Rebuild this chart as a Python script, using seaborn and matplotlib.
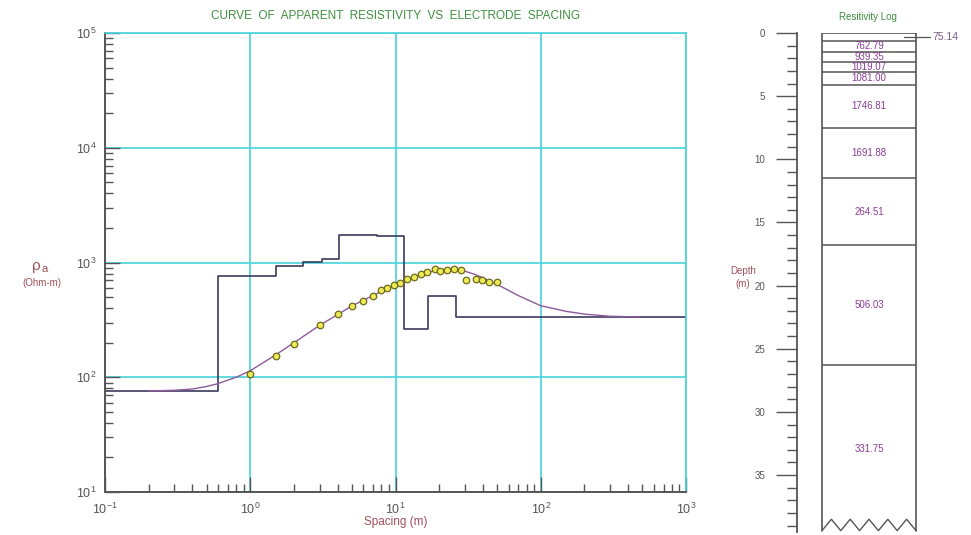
import numpy as np
import pandas as pd
import matplotlib
matplotlib.use("Agg")
import matplotlib.pyplot as plt
import seaborn as sns
from matplotlib.ticker import LogLocator, FixedLocator, NullFormatter, MultipleLocator

# ---------------- data ----------------
layer_res = [75.14, 762.79, 939.35, 1019.07, 1081.00, 1746.81, 1691.88, 264.51, 506.03, 331.75]
layer_bottom = [0.6, 1.5, 2.3, 3.1, 4.1, 7.5, 11.5, 16.8, 26.3]
res_labels = ["75.14", "762.79", "939.35", "1019.07", "1081.00", "1746.81",
              "1691.88", "264.51", "506.03", "331.75"]

spacing_obs = [1.0, 1.5, 2.0, 3.0, 4.0, 5.0, 6.0, 7.0, 8.0, 8.8, 9.7, 10.8, 12.0,
               13.4, 14.9, 16.5, 18.6, 20.4, 22.7, 25.3, 28.1, 30.4, 35.6, 39.6, 44.1, 50.3]
rho_obs = [106, 153, 196, 285, 353, 417, 461, 513, 574, 603, 631, 665, 711,
           750, 791, 824, 881, 840, 857, 881, 857, 701, 721, 701, 680, 678]

spacing_model = [0.2, 0.3, 0.4, 0.5, 0.6, 0.8, 1.0, 1.5, 2.0, 3.0, 4.0, 5.0, 6.0, 8.0,
                 10.0, 12.0, 15.0, 20.0, 25.0, 30.0, 35.0, 40.0, 50.0, 70.0, 100.0,
                 150.0, 200.0, 300.0, 480.0]
rho_model = [76, 77, 79, 83, 88, 100, 114, 157, 200, 283, 352, 418, 468, 560,
             630, 700, 790, 865, 875, 840, 790, 735, 645, 515, 420,
             375, 355, 340, 335]

x_start, x_end = 0.1, 1000
depth_ticks = [0, 5, 10, 15, 20, 25, 30, 35]
max_depth = 39.5

# ---------------- style ----------------
sns.set_style("white")
plt.rcParams["font.family"] = ["Liberation Sans", "DejaVu Sans"]
plt.rcParams["mathtext.fontset"] = "custom"
plt.rcParams["mathtext.rm"] = "Liberation Sans"
plt.rcParams["mathtext.it"] = "Liberation Sans:italic"

grid_c = "#45d3da"
axis_c = "#555555"
step_c = "#3b3b5c"
model_c = "#8e5a9e"
label_c = "#a0505a"
title_c = "#3f8f3f"
log_txt_c = "#8a3c98"

fig = plt.figure(figsize=(9.71, 5.35), dpi=100)
ax = fig.add_axes([105 / 971, 1 - 492 / 535, (686 - 105) / 971, (492 - 33) / 535])
ax.set_xscale("log")
ax.set_yscale("log")

# step model
step_x = [x_start] + layer_bottom + [x_end]
step_y = layer_res + [layer_res[-1]]
sns.lineplot(x=step_x, y=step_y, ax=ax, drawstyle="steps-post", color=step_c,
             linewidth=1.2, estimator=None, sort=False)
# model curve
sns.lineplot(x=spacing_model, y=rho_model, ax=ax, color=model_c, linewidth=1.0,
             estimator=None, sort=False)
# observed
sns.scatterplot(x=spacing_obs, y=rho_obs, ax=ax, marker="o", s=22,
                color="#eeea55", edgecolor="#6d6a1c", linewidth=0.9, zorder=5)

ax.set_xlim(x_start, x_end)
ax.set_ylim(10, 1e5)
ax.xaxis.set_major_locator(LogLocator(base=10, numticks=10))
ax.yaxis.set_major_locator(LogLocator(base=10, numticks=10))
ax.xaxis.set_minor_locator(LogLocator(base=10, subs=np.arange(2, 10), numticks=20))
ax.yaxis.set_minor_locator(LogLocator(base=10, subs=np.arange(2, 10), numticks=20))
ax.xaxis.set_minor_formatter(NullFormatter())
ax.yaxis.set_minor_formatter(NullFormatter())
ax.grid(True, which="major", color=grid_c, linewidth=1.2)
ax.set_axisbelow(True)
ax.tick_params(which="both", bottom=True, left=True, top=False, right=False)
ax.tick_params(which="major", direction="in", length=11, width=1.0, color=axis_c,
               labelsize=9, labelcolor="#555555", pad=6)
ax.tick_params(which="minor", direction="in", length=6, width=1.0, color=axis_c)
ax.tick_params(axis="x", pad=7)
for s in ["left", "bottom"]:
    ax.spines[s].set_color(axis_c)
    ax.spines[s].set_linewidth(1.4)
for s in ["top", "right"]:
    ax.spines[s].set_color(grid_c)
    ax.spines[s].set_linewidth(1.2)
ax.set_xlabel("")
ax.set_ylabel("")

fig.text(396 / 971, 1 - 16 / 535, "CURVE  OF  APPARENT  RESISTIVITY  VS  ELECTRODE  SPACING",
         color=title_c, fontsize=8.5, ha="center", va="center")
fig.text(396 / 971, 1 - 522 / 535, "Spacing (m)", color=label_c, fontsize=8.5,
         ha="center", va="center")
fig.text(36 / 971, 1 - 266 / 535, "ρ", color=label_c, fontsize=11,
         ha="center", va="center")
fig.text(45 / 971, 1 - 269 / 535, "a", color=label_c, fontsize=8,
         ha="center", va="center")
fig.text(42 / 971, 1 - 283 / 535, "(Ohm-m)", color=label_c, fontsize=7,
         ha="center", va="center")

# ---------------- resistivity log ----------------
px_per_m = 12.63
top_px = 33
bot_px = top_px + max_depth * px_per_m
ax2 = fig.add_axes([797 / 971, 1 - bot_px / 535, (965 - 797) / 971, (bot_px - top_px) / 535])
ax2.set_xlim(0, 168)
ax2.set_ylim(max_depth, 0)
bl, br = 25, 119

depth_top = [0] + layer_bottom
depth_bot = layer_bottom + [None]
zig_n = 10
zig_x = np.linspace(bl, br, zig_n + 1)
zig_y = [max_depth - 0.1 if i % 2 == 0 else max_depth - 1.0 for i in range(zig_n + 1)]
ax2.plot([bl, bl], [0, zig_y[0]], color="#555555", lw=1.2)
ax2.plot([br, br], [0, zig_y[-1]], color="#555555", lw=1.2)
ax2.plot([bl, br], [0, 0], color="#555555", lw=1.2)
ax2.plot(zig_x, zig_y, color="#555555", lw=1.0)
ax2.hlines(layer_bottom, bl, br, color="#555555", lw=1.1)

for i, lab in enumerate(res_labels):
    if i == 0:
        yd = layer_bottom[0] / 2
        ax2.plot([br - 12, br + 14], [yd, yd], color="#555555", lw=0.9)
        ax2.text(br + 16, yd, lab, color="#7a5a86", fontsize=7.5, ha="left", va="center")
        continue
    t = depth_top[i]
    b = depth_bot[i] if depth_bot[i] is not None else max_depth
    ax2.text((bl + br) / 2, (t + b) / 2, lab, color=log_txt_c, fontsize=7,
             ha="center", va="center")

ax2.yaxis.set_major_locator(FixedLocator(depth_ticks))
ax2.yaxis.set_minor_locator(MultipleLocator(1))
ax2.tick_params(axis="y", which="both", left=True, right=False)
ax2.tick_params(axis="y", which="major", direction="out", length=15, width=1.0,
                color="#555555", labelsize=7, labelcolor="#555555", pad=8)
ax2.tick_params(axis="y", which="minor", direction="out", length=7, width=1.0,
                color="#555555")
ax2.set_xticks([])
for s in ["top", "right", "bottom"]:
    ax2.spines[s].set_visible(False)
ax2.spines["left"].set_color("#555555")
ax2.spines["left"].set_linewidth(1.3)
ax2.patch.set_alpha(0)

fig.text(868 / 971, 1 - 17 / 535, "Resitivity Log", color=title_c, fontsize=7,
         ha="center", va="center")
fig.text(743 / 971, 1 - 271 / 535, "Depth", color=label_c, fontsize=7,
         ha="center", va="center")
fig.text(743 / 971, 1 - 284 / 535, "(m)", color=label_c, fontsize=7,
         ha="center", va="center")

fig.savefig("out.png", dpi=100)
